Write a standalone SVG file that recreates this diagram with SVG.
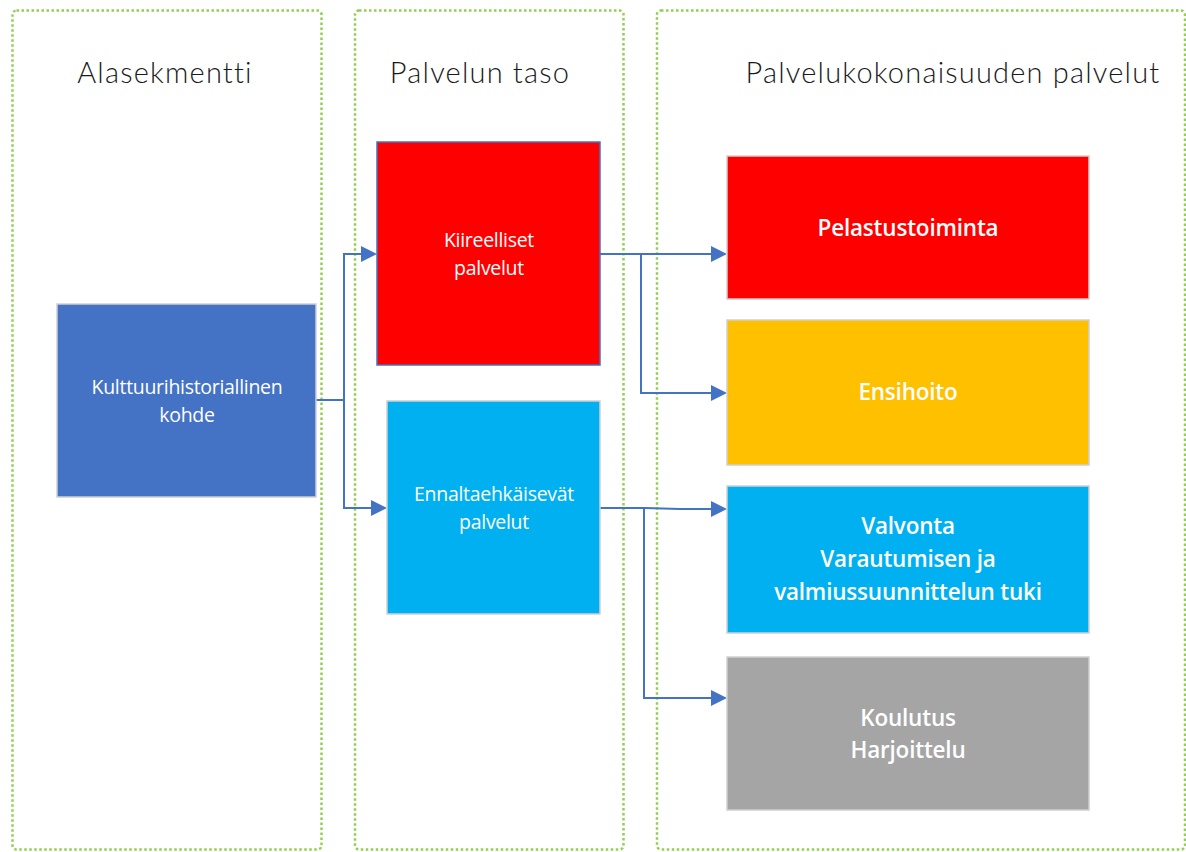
<svg xmlns="http://www.w3.org/2000/svg" width="1186" height="852" viewBox="0 0 1186 852">
<style>
.cont{fill:none;stroke:#92D050;stroke-width:2.5;stroke-dasharray:2.5 2.5}
.title{font-family:"Lato","Open Sans",sans-serif;font-weight:300;font-size:29px;letter-spacing:1.2px;fill:#1a1a1a;text-anchor:middle}
.node{stroke:#d0d0d0;stroke-width:1.5}
.lbl{font-family:"Open Sans","Liberation Sans",sans-serif;font-size:19.5px;fill:#ffffff;text-anchor:middle;letter-spacing:-0.3px}
.big{font-family:"Open Sans","Liberation Sans",sans-serif;font-size:22.5px;font-weight:600;fill:#ffffff;text-anchor:middle;letter-spacing:-0.2px}
.conn{fill:none;stroke:#4472C4;stroke-width:2}
</style>
<defs>
<marker id="arr" markerWidth="8" markerHeight="8" refX="7" refY="4" orient="auto" markerUnits="strokeWidth">
<path d="M0,0 L8,4 L0,8 z" fill="#4472C4"/>
</marker>
</defs>
<rect width="1186" height="852" fill="#ffffff"/>
<g id="containers">
<rect class="cont" x="12.5" y="10.5" width="309" height="839" rx="4"/>
<rect class="cont" x="355" y="10.5" width="268.5" height="839" rx="4"/>
<rect class="cont" x="657" y="10.5" width="528" height="839" rx="4"/>
<text class="title" x="165" y="83">Alasekmentti</text>
<text class="title" x="480" y="83">Palvelun taso</text>
<text class="title" x="953" y="83">Palvelukokonaisuuden palvelut</text>
</g>
<g id="connectors">
<path class="conn" d="M316,400 H344 V254 H375" marker-end="url(#arr)"/>
<path class="conn" d="M344,400 V508 H385" marker-end="url(#arr)"/>
<path class="conn" d="M600,254 H725" marker-end="url(#arr)"/>
<path class="conn" d="M641,254 V393 H725" marker-end="url(#arr)"/>
<path class="conn" d="M600,508 H645 L680,509 H725" marker-end="url(#arr)"/>
<path class="conn" d="M644,508 V698 H725" marker-end="url(#arr)"/>
</g>
<g id="n-kohde">
<rect class="node" x="57" y="304" width="259" height="193" fill="#4472C4" stroke="#c8c8c8"/>
<text class="lbl" x="187" y="394">Kulttuurihistoriallinen</text>
<text class="lbl" x="187" y="422">kohde</text>
</g>
<g id="n-kiireelliset">
<rect x="377" y="142" width="223" height="223" fill="#FF0000" stroke="#4472C4" stroke-width="1.5"/>
<text class="lbl" x="489" y="247">Kiireelliset</text>
<text class="lbl" x="489" y="275">palvelut</text>
</g>
<g id="n-ennalta">
<rect class="node" x="387" y="401" width="213" height="213" fill="#00B0F0"/>
<text class="lbl" x="494" y="501">Ennaltaehkäisevät</text>
<text class="lbl" x="494" y="529">palvelut</text>
</g>
<g id="n-pelastus">
<rect class="node" x="727" y="156" width="362" height="143" fill="#FF0000"/>
<text class="big" x="908" y="236">Pelastustoiminta</text>
</g>
<g id="n-ensihoito">
<rect class="node" x="727" y="320" width="362" height="145" fill="#FFC000"/>
<text class="big" x="908" y="400">Ensihoito</text>
</g>
<g id="n-valvonta">
<rect class="node" x="727" y="486" width="362" height="147" fill="#00B0F0"/>
<text class="big" x="908" y="534">Valvonta</text>
<text class="big" x="908" y="567">Varautumisen ja</text>
<text class="big" x="908" y="600">valmiussuunnittelun tuki</text>
</g>
<g id="n-koulutus">
<rect class="node" x="727" y="657" width="362" height="153" fill="#A5A5A5"/>
<text class="big" x="908" y="726">Koulutus</text>
<text class="big" x="908" y="758">Harjoittelu</text>
</g>
</svg>
